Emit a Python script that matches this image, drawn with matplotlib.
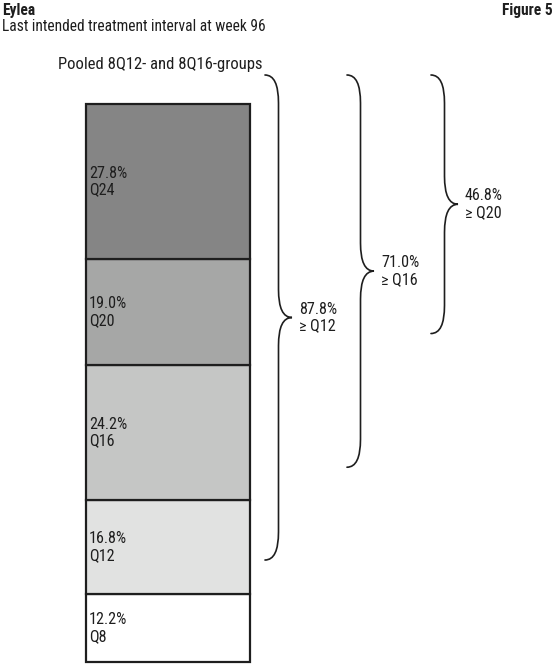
import matplotlib
matplotlib.use("Agg")
import matplotlib.pyplot as plt
from matplotlib import font_manager
from matplotlib.path import Path
from matplotlib.patches import PathPatch

# pick a condensed sans-serif if available
names = {f.name for f in font_manager.fontManager.ttflist}
cond_files = [f for f in font_manager.fontManager.ttflist
              if "Condensed" in f.fname and f.name == "DejaVu Sans"]
family = None
stretch = "normal"
for cand in ["Liberation Sans Narrow", "Roboto Condensed", "Open Sans Condensed"]:
    if cand in names:
        family = cand
        break
if family is None and cond_files:
    family = "DejaVu Sans"
    stretch = "condensed"
if family is None:
    family = "Roboto" if "Roboto" in names else "DejaVu Sans"
plt.rcParams['font.family'] = [family, 'DejaVu Sans']
plt.rcParams['font.stretch'] = stretch

categories = ["Q8", "Q12", "Q16", "Q20", "Q24"]
values = [12.2, 16.8, 24.2, 19.0, 27.8]
colors = ["#ffffff", "#e1e2e1", "#c5c6c5", "#a6a7a6", "#858585"]
brace_values = [87.8, 71.0, 46.8]
brace_labels = ["≥ Q12", "≥ Q16", "≥ Q20"]

W, H = 556, 664
fig = plt.figure(figsize=(W / 100, H / 100), dpi=100)
ax = fig.add_axes([0, 0, 1, 1])
PX = 5.58  # pixels per percent
ax.set_xlim(0, W)
ax.set_ylim(-2 / PX, 662 / PX)
ax.axis("off")

FS = 11.6
FT = 11.2
ink = "#1e1e1e"
bottom = 0.0
for cat, v, c in zip(categories, values, colors):
    ax.bar(168, v, width=164, bottom=bottom, color=c, edgecolor=ink,
           linewidth=1.6, zorder=2)
    ax.text(89, bottom + v / 2, f"{v:.1f}%\n{cat}", ha="left", va="center",
            fontsize=FS, color=ink, linespacing=1.15, zorder=3)
    bottom += v

top = 100 + 29 / PX
xs = [265, 347, 431]
for x0, bv, lab in zip(xs, brace_values, brace_labels):
    yt = top
    yb = top - bv * 0.99
    ym = (yt + yb) / 2
    w = 27
    q = 28 / PX
    xm = x0 + w / 2
    verts = [(x0, yt), (xm, yt), (xm, yt - q),
             (xm, ym + q), (xm, ym), (x0 + w, ym),
             (xm, ym), (xm, ym - q),
             (xm, yb + q), (xm, yb), (x0, yb)]
    codes = [Path.MOVETO, Path.CURVE3, Path.CURVE3,
             Path.LINETO, Path.CURVE3, Path.CURVE3,
             Path.CURVE3, Path.CURVE3,
             Path.LINETO, Path.CURVE3, Path.CURVE3]
    ax.add_patch(PathPatch(Path(verts, codes), fill=False, edgecolor=ink,
                           linewidth=1.2, capstyle="round"))
    ax.text(x0 + w + 7, ym, f"{bv:.1f}%\n{lab}", ha="left", va="center",
            fontsize=FS, color=ink, linespacing=1.15)

fig.text(2 / W, 1 - 3 / H, "Eylea", ha="left", va="top", fontsize=FT,
         fontweight="bold", color=ink)
fig.text(1 - 3 / W, 1 - 3 / H, "Figure 5", ha="right", va="top", fontsize=FT,
         fontweight="bold", color=ink)
fig.text(2 / W, 1 - 19 / H, "Last intended treatment interval at week 96",
         ha="left", va="top", fontsize=FT, color=ink)
fig.text(58 / W, 1 - 57 / H, "Pooled 8Q12- and 8Q16-groups",
         ha="left", va="top", fontsize=12.0, color=ink)

fig.savefig("out.png", dpi=100, facecolor="white")
